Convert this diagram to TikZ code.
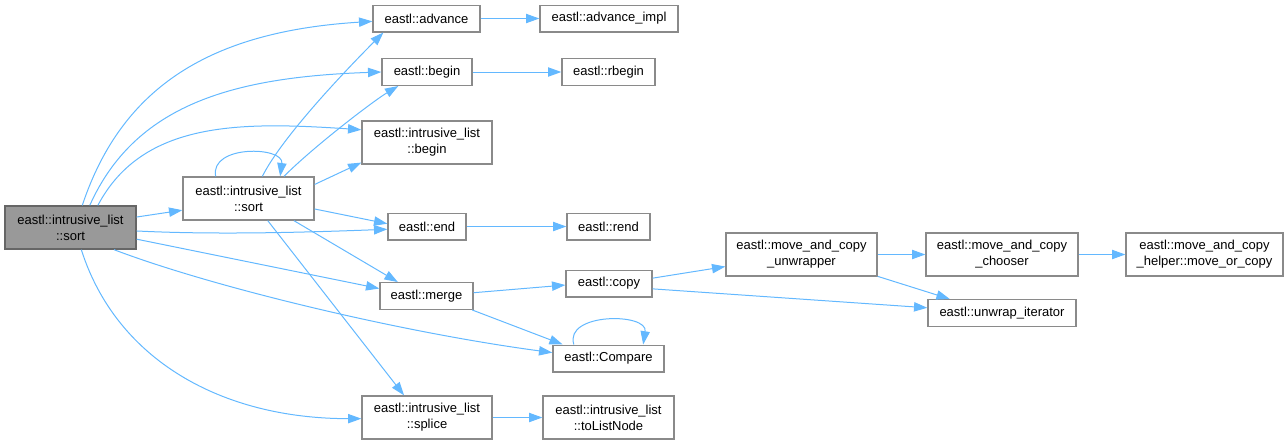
\documentclass[tikz,border=0pt]{standalone}
\usepackage{fontspec}
\setmainfont{Liberation Sans}
\usetikzlibrary{arrows.meta}
\definecolor{edgeblue}{HTML}{63B8FF}
\definecolor{boxgray}{HTML}{8A8A8A}
\definecolor{rootgray}{HTML}{999999}
\definecolor{rootline}{HTML}{666666}

\begin{document}
\begin{tikzpicture}[
  x=0.75pt,y=-0.75pt,
  font=\fontsize{9.75}{12}\selectfont,
  fn/.style={
    draw=boxgray,
    line width=1pt,
    fill=white,
    align=center,
    inner sep=0pt,
    minimum width=#1*0.75pt,
    minimum height=20pt
  },
  fntwo/.style={fn=#1,minimum height=32.25pt},
  rootfn/.style={fntwo=#1,fill=rootgray,draw=rootline},
  call/.style={-{Triangle[length=10pt,width=7pt]},line width=0.75pt,draw=edgeblue}
]
\useasboundingbox (0,0) rectangle (1288,444);

% 1. Caller and the inner sort
\node[rootfn=131] (root) at (70.5,227.5) {eastl::intrusive\_list\\::sort};
\node[fntwo=131] (sort) at (248.5,198.5) {eastl::intrusive\_list\\::sort};

% 2. Second column
\node[fn=107] (advance) at (426.5,18.5) {eastl::advance};
\node[fn=90] (begin) at (427,72) {eastl::begin};
\node[fntwo=130] (ilbegin) at (427,142.5) {eastl::intrusive\_list\\::begin};
\node[fn=78] (end) at (427,226.5) {eastl::end};
\node[fn=93] (merge) at (426.5,296) {eastl::merge};
\node[fntwo=130] (splice) at (427,417.5) {eastl::intrusive\_list\\::splice};

% 3. Third column
\node[fn=138] (advimpl) at (609,18.5) {eastl::advance\_impl};
\node[fn=93] (rbegin) at (608.5,72) {eastl::rbegin};
\node[fn=83] (rend) at (608.5,226.5) {eastl::rend};
\node[fn=86] (copy) at (609,283.5) {eastl::copy};
\node[fn=111] (compare) at (608.5,358.5) {eastl::Compare};
\node[fntwo=131] (tolist) at (608.5,417.5) {eastl::intrusive\_list\\::toListNode};

% 4. Copy helpers
\node[fntwo=151] (unwrapper) at (801.5,254.5) {eastl::move\_and\_copy\\\_unwrapper};
\node[fntwo=152] (chooser) at (1002,254.5) {eastl::move\_and\_copy\\\_chooser};
\node[fntwo=157] (helper) at (1204.5,254.5) {eastl::move\_and\_copy\\\_helper::move\_or\_copy};
\node[fn=148] (unwrapit) at (1002,313) {eastl::unwrap\_iterator};

% Calls from the outer sort
\draw[call] (root.62) .. controls +(40,-120) and +(-160,10) .. (advance.183);
\draw[call] (root.49) .. controls +(45,-100) and +(-150,5) .. (begin.west);
\draw[call] (root.39) .. controls +(45,-85) and +(-120,-8) .. (ilbegin.169);
\draw[call] (root.9) -- (sort.190);
\draw[call] (root.-3) .. controls +(80,4) and +(-80,3) .. (end.184);
\draw[call] (root.-10) -- (merge.171);
\draw[call] (root.-27) .. controls +(100,38) and +(-150,-20) .. (compare.174);
\draw[call] (root.-64) .. controls +(35,110) and +(-140,0) .. (splice.181);

% Calls from the inner sort
\draw[call] (sort.146) .. controls +(-6,-32) and +(4,-30) .. (sort.35);
\draw[call] (sort.58) .. controls +(20,-40) and +(-35,35) .. (advance.198);
\draw[call] (sort.32) .. controls +(30,-30) and +(-25,15) .. (begin.206);
\draw[call] (sort.12) -- (ilbegin.197);
\draw[call] (sort.-9) -- (end.176);
\draw[call] (sort.-26) -- (merge.154);
\draw[call] (sort.-49) -- (splice.136);

% Remaining calls
\draw[call] (advance) -- (advimpl);
\draw[call] (begin) -- (rbegin);
\draw[call] (end) -- (rend);
\draw[call] (merge.4) -- (copy.182);
\draw[call] (merge.-17) -- (compare.163);
\draw[call] (compare.158) .. controls +(-10,-32) and +(5,-32) .. (compare.22);
\draw[call] (copy.7) -- (unwrapper.189);
\draw[call] (copy.-7) -- (unwrapit.176);
\draw[call] (unwrapper) -- (chooser);
\draw[call] (unwrapper.-16) -- (unwrapit.165);
\draw[call] (chooser) -- (helper);
\draw[call] (splice) -- (tolist);

\end{tikzpicture}
\end{document}
